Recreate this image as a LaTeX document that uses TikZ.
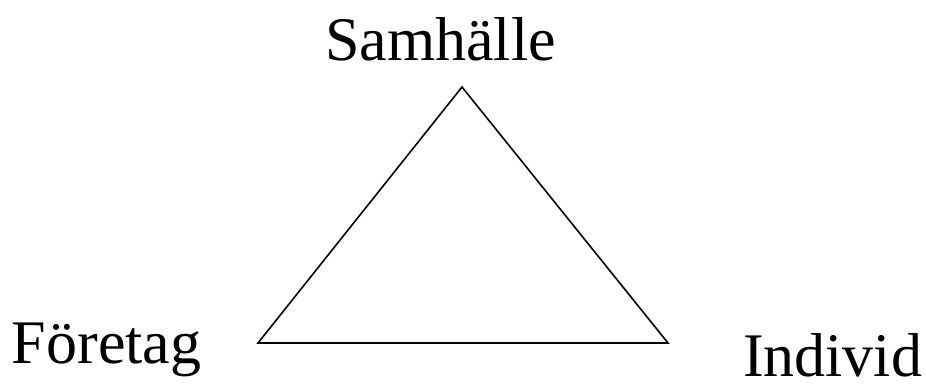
\documentclass[tikz,border=0pt]{standalone}
\usepackage{fontspec}
\setmainfont{Liberation Serif}
\begin{document}
\begin{tikzpicture}[x=1pt,y=-1pt,
  lbl/.style={anchor=base west,inner sep=0pt,outer sep=0pt,font=\fontsize{62}{70}\selectfont},
  tri/.style={draw=black,line width=1.6pt,line join=miter}]
\useasboundingbox (0,0) rectangle (926,383);
\coordinate (top) at (462,87);
\coordinate (bl) at (258,343);
\coordinate (br) at (668,343);
\draw[tri] (top) -- (bl) -- (br) -- cycle;
\node[lbl] (s) at (325,60) {Samhälle};
\node[lbl] (f) at (12,363) {Företag};
\node[lbl] (i) at (743,376) {Individ};
\end{tikzpicture}
\end{document}
